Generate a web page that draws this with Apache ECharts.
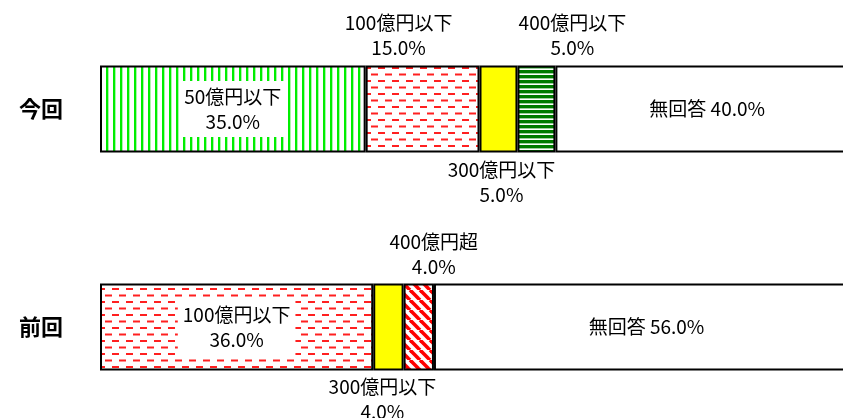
<!DOCTYPE html>
<html>
<head>
<meta charset="utf-8">
<script src="https://cdn.jsdelivr.net/npm/echarts@6/dist/echarts.min.js"></script>
<style>
html,body{margin:0;padding:0;background:#fff;}
#chart{width:843px;height:418px;}
</style>
</head>
<body>
<div id="chart"></div>
<script>
// ---- data ----
const categories = ['今回', '前回'];
const seriesNames = ['50億円以下', '100億円以下', '300億円以下', '400億円以下', '400億円超', '無回答'];
const v50 = [35.0, 0];
const v100 = [15.0, 36.0];
const v300 = [5.0, 4.0];
const v400 = [5.0, 0];
const v400over = [0, 4.0];
const vNone = [40.0, 56.0];
const seriesValues = [v50, v100, v300, v400, v400over, vNone];

// ---- styles ----
function pattern(w, h, draw) {
  const c = document.createElement('canvas');
  c.width = w; c.height = h;
  const ctx = c.getContext('2d');
  ctx.fillStyle = '#ffffff';
  ctx.fillRect(0, 0, w, h);
  draw(ctx);
  return { image: c, repeat: 'repeat' };
}
const fills = [
  pattern(7, 7, ctx => { ctx.fillStyle = '#00ee00'; ctx.fillRect(1, 0, 2, 7); ctx.fillStyle = '#aaf5aa'; ctx.fillRect(3, 0, 1, 7); }),
  pattern(14, 13, ctx => { ctx.fillStyle = '#ff2020'; ctx.fillRect(0, 2, 7, 2); ctx.fillRect(7, 8.5, 7, 2); }),
  '#ffff00',
  pattern(5, 5, ctx => { ctx.fillStyle = '#007a00'; ctx.fillRect(0, 0, 5, 3); ctx.fillStyle = '#9ccf9c'; ctx.fillRect(0, 3, 5, 1); }),
  pattern(10, 10, ctx => {
    ctx.strokeStyle = '#ff0000'; ctx.lineWidth = 3.6;
    for (const k of [-10, 0, 10]) { ctx.beginPath(); ctx.moveTo(k, 0); ctx.lineTo(k + 10, 10); ctx.stroke(); }
  }),
  '#ffffff'
];
const FONT = 'Noto Sans CJK JP';
const baseLabel = { show: true, color: '#000', fontFamily: FONT, fontSize: 19, lineHeight: 25 };
const inBox = { position: 'inside', backgroundColor: '#fff', padding: [3, 5] };
// label placement per [series][category]
const labelPlace = [
  [inBox, null],
  [{ position: 'top', distance: 1, offset: [-24, 0], backgroundColor: '#fff', padding: [3, 6, 4, 6] }, inBox],
  [{ position: 'bottom', distance: 5, offset: [3, 0] }, { position: 'bottom', distance: 4, offset: [-6, 0] }],
  [{ position: 'top', distance: 5, offset: [36, 0] }, null],
  [null, { position: 'top', distance: 4, offset: [15, 0] }],
  [{ position: 'inside' }, { position: 'inside' }]
];

const series = seriesNames.map((name, si) => ({
  name: name,
  type: 'bar',
  stack: 'total',
  barWidth: 87,
  itemStyle: { color: fills[si], borderColor: '#000', borderWidth: 2 },
  data: seriesValues[si].map((v, ci) => {
    if (!v) return '-';
    const place = labelPlace[si][ci] || { position: 'inside' };
    return {
      value: v,
      label: Object.assign({}, baseLabel, place, {
        formatter: p => name === '無回答'
          ? name + ' ' + p.value.toFixed(1) + '%'
          : name + '\n' + p.value.toFixed(1) + '%'
      })
    };
  })
}));

const chart = echarts.init(document.getElementById('chart'));
chart.setOption({
  animation: false,
  backgroundColor: '#fff',
  grid: { left: 100, top: 0, width: 759, height: 436, containLabel: false, outerBoundsMode: 'none' },
  xAxis: { type: 'value', min: 0, max: 100, show: false },
  yAxis: {
    type: 'category',
    data: categories,
    inverse: true,
    axisLine: { show: false },
    axisTick: { show: false },
    splitLine: { show: false },
    axisLabel: { color: '#000', fontFamily: FONT, fontSize: 22, fontWeight: 'bold', margin: 37 }
  },
  series: series
});
</script>
</body>
</html>
